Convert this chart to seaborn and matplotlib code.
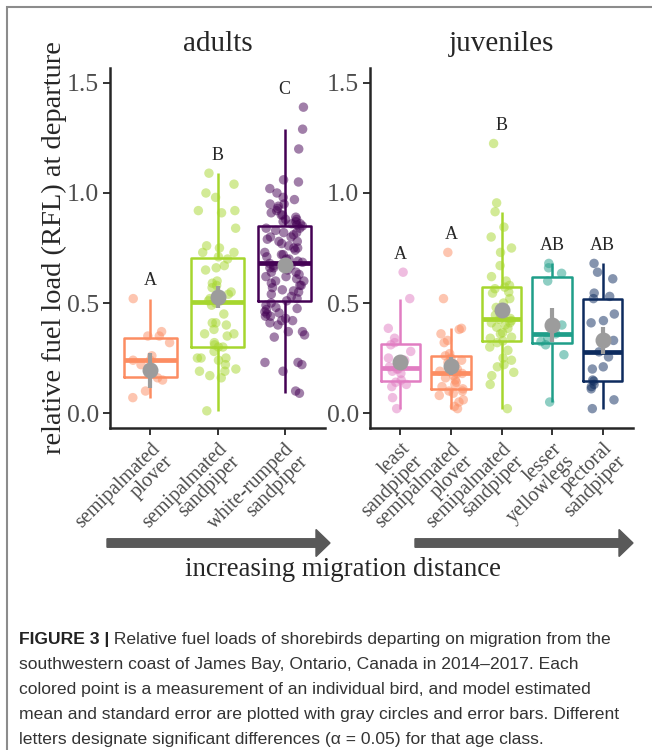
import numpy as np
import pandas as pd
import matplotlib
matplotlib.use('Agg')
import matplotlib.pyplot as plt
from matplotlib.patches import FancyArrow, Rectangle
import seaborn as sns

# --- Data ---

adult_species = ['semipalmated\nplover', 'semipalmated\nsandpiper', 'white-rumped\nsandpiper']
juv_species = ['least\nsandpiper', 'semipalmated\nplover', 'semipalmated\nsandpiper',
               'lesser\nyellowlegs', 'pectoral\nsandpiper']

# individual birds, relative fuel load
adult_sepl = [0.52, 0.37, 0.35, 0.35, 0.32, 0.26, 0.24, 0.24, 0.22, 0.18, 0.16, 0.15, 0.10, 0.07]
adult_sesa = [1.09, 1.04, 1.00, 0.98, 0.92, 0.92, 0.91, 0.84, 0.76, 0.75, 0.73, 0.73, 0.71,
              0.70, 0.67, 0.66, 0.65, 0.60, 0.59, 0.58, 0.57, 0.55, 0.54, 0.52, 0.51, 0.51,
              0.50, 0.49, 0.45, 0.41, 0.41, 0.40, 0.38, 0.36, 0.36, 0.35, 0.32, 0.31, 0.30,
              0.30, 0.28, 0.25, 0.25, 0.25, 0.24, 0.22, 0.20, 0.19, 0.19, 0.17, 0.16, 0.01]
adult_wrsa = [1.39, 1.29, 1.20, 1.06, 1.05, 1.02, 1.00, 0.98, 0.97, 0.95, 0.95, 0.94, 0.93,
              0.92, 0.91, 0.90, 0.90, 0.89, 0.88, 0.88, 0.87, 0.87, 0.86, 0.86, 0.855,
              0.85, 0.84, 0.84, 0.83, 0.82, 0.82, 0.81, 0.80, 0.80, 0.79, 0.78, 0.78, 0.77,
              0.76, 0.75, 0.75, 0.74, 0.73, 0.72, 0.72, 0.71, 0.70, 0.70, 0.69, 0.685,
              0.68, 0.67, 0.67, 0.66, 0.66, 0.65, 0.64, 0.64, 0.63, 0.62, 0.62, 0.61, 0.60,
              0.60, 0.59, 0.58, 0.58, 0.57, 0.56, 0.555, 0.55, 0.54, 0.53, 0.52, 0.51,
              0.50, 0.49, 0.48, 0.475, 0.47, 0.46, 0.455, 0.45, 0.44, 0.44, 0.43, 0.42,
              0.42, 0.41, 0.40, 0.37, 0.37, 0.355, 0.345, 0.23, 0.23, 0.22, 0.19, 0.10, 0.09]

juv_lesa = [0.64, 0.52, 0.385, 0.34, 0.32, 0.31, 0.28, 0.25, 0.24, 0.21, 0.20, 0.20, 0.19,
            0.18, 0.15, 0.14, 0.13, 0.12, 0.07, 0.02]
juv_sepl = [0.73, 0.52, 0.385, 0.38, 0.36, 0.33, 0.32, 0.27, 0.26, 0.25, 0.24, 0.23, 0.22,
            0.21, 0.20, 0.19, 0.18, 0.18, 0.17, 0.16, 0.15, 0.14, 0.13, 0.12, 0.11, 0.10,
            0.10, 0.09, 0.08, 0.06, 0.05, 0.03, 0.02]
juv_sesa = [1.225, 0.955, 0.915, 0.845, 0.80, 0.75, 0.73, 0.67, 0.62, 0.60, 0.58,
            0.572, 0.565, 0.55, 0.545, 0.52, 0.50, 0.48, 0.475, 0.46, 0.445, 0.43,
            0.426, 0.42, 0.41, 0.41, 0.40, 0.39, 0.385, 0.365, 0.36, 0.345, 0.34,
            0.328, 0.32, 0.30, 0.285, 0.25, 0.24, 0.22, 0.21, 0.185, 0.17, 0.13, 0.02]
juv_leye = [0.68, 0.66, 0.635, 0.60, 0.40, 0.36, 0.34, 0.325, 0.31, 0.265, 0.05]
juv_pesa = [0.68, 0.64, 0.61, 0.545, 0.53, 0.52, 0.45, 0.42, 0.41, 0.33, 0.278, 0.255,
            0.21, 0.20, 0.15, 0.145, 0.13, 0.12, 0.11, 0.06, 0.02]

# model estimated mean and standard error (gray circles)
adult_mean = [0.195, 0.527, 0.672]
adult_se = [0.08, 0.05, 0.02]
juv_mean = [0.232, 0.213, 0.468, 0.40, 0.33]
juv_se = [0.03, 0.04, 0.03, 0.078, 0.06]

# significance letters
adult_letters = ['A', 'B', 'C']
juv_letters = ['A', 'A', 'B', 'AB', 'AB']

adult_colors = ['#FC8D62', '#A6D62E', '#440154']
juv_colors = ['#E17DC2', '#FC8D62', '#A6D62E', '#1F9E89', '#0D2B5E']

caption_lines = [
    'Relative fuel loads of shorebirds departing on migration from the',
    'southwestern coast of James Bay, Ontario, Canada in 2014\u20132017. Each',
    'colored point is a measurement of an individual bird, and model estimated',
    'mean and standard error are plotted with gray circles and error bars. Different',
    'letters designate significant differences (\u03b1 = 0.05) for that age class.',
]

# --- Build long tables ---
adults = pd.DataFrame({
    'species': np.repeat(adult_species, [len(adult_sepl), len(adult_sesa), len(adult_wrsa)]),
    'rfl': adult_sepl + adult_sesa + adult_wrsa,
})
juvs = pd.DataFrame({
    'species': np.repeat(juv_species, [len(juv_lesa), len(juv_sepl), len(juv_sesa),
                                       len(juv_leye), len(juv_pesa)]),
    'rfl': juv_lesa + juv_sepl + juv_sesa + juv_leye + juv_pesa,
})
# keep the two "semipalmated" juvenile categories apart from the adult ones
adults['key'] = ['a' + str(adult_species.index(s)) for s in adults['species']]
juvs['key'] = ['j' + str(juv_species.index(s)) for s in juvs['species']]

sns.set_style('ticks')
plt.rcParams['font.family'] = ['Liberation Serif', 'DejaVu Serif']

fig = plt.figure(figsize=(6.52, 7.5), dpi=100)
ax1 = fig.add_axes([110 / 652, 1 - 428 / 750, 215 / 652, 360 / 750])
ax2 = fig.add_axes([370 / 652, 1 - 428 / 750, 263 / 652, 360 / 750])

np.random.seed(7)
panels = [
    (ax1, adults, adult_species, adult_colors, adult_mean, adult_se, adult_letters, 'adults', 0.3),
    (ax2, juvs, juv_species, juv_colors, juv_mean, juv_se, juv_letters, 'juveniles', 0.25),
]
for ax, df, names, cols, means, ses, letters, title, jit in panels:
    order = sorted(df['key'].unique())
    pal = dict(zip(order, cols))
    sns.boxplot(data=df, x='key', y='rfl', hue='key', order=order, palette=pal,
                fill=False, width=0.78, showfliers=False, showcaps=False,
                linewidth=1.8, medianprops={'linewidth': 3.4}, legend=False, ax=ax)
    sns.stripplot(data=df, x='key', y='rfl', hue='key', order=order, palette=pal,
                  jitter=jit, size=6.8, alpha=0.5, linewidth=0, legend=False, ax=ax)
    pos = np.arange(len(names))
    ax.errorbar(pos, means, yerr=ses, fmt='o', ms=10.5, color='#9C9C9C',
                elinewidth=3, capsize=0, zorder=10)
    for i, k in enumerate(order):
        top = df.loc[df['key'] == k, 'rfl'].max()
        ax.text(i, top + 0.06, letters[i], ha='center', va='baseline', fontsize=13)

    ax.set_xlim(-0.6, len(names) - 0.4)
    ax.set_ylim(-0.068, 1.568)
    ax.set_yticks([0, 0.5, 1.0, 1.5])
    ax.set_yticklabels(['0.0', '0.5', '1.0', '1.5'], fontsize=18.5, color='#4D4D4D')
    ax.set_xticks(pos)
    ax.set_xticklabels(names, rotation=45, ha='right', va='top', rotation_mode='anchor',
                       fontsize=14.5, color='#4D4D4D', linespacing=0.95, multialignment='right')
    ax.tick_params(axis='both', length=5, width=1.4, color='#333333', pad=3)
    ax.set_xlabel('')
    ax.set_ylabel('')
    ax.set_title(title, fontsize=21, pad=12)
    for sp in ['left', 'bottom']:
        ax.spines[sp].set_linewidth(1.8)
    sns.despine(ax=ax)

ax1.set_ylabel('relative fuel load (RFL) at departure', fontsize=20.5, labelpad=0)

# migration distance arrows
for x0, x1 in [(1.07, 3.30), (4.15, 6.33)]:
    fig.add_artist(FancyArrow(x0, 2.07, x1 - x0, 0, width=0.085, head_width=0.27,
                              head_length=0.14, length_includes_head=True,
                              color='#595959', transform=fig.dpi_scale_trans))
fig.text(343 / 652, 1 - 569 / 750, 'increasing migration distance', ha='center',
         va='center', fontsize=19.4)

# caption
cap_y = [644, 669, 694, 719, 744]
cap_size = 12.6
bold = fig.text(19 / 652, 1 - cap_y[0] / 750, 'FIGURE 3 |', family='Liberation Sans',
                fontweight='bold', fontsize=cap_size, va='baseline', color='#222222')
fig.canvas.draw()
for i, line in enumerate(caption_lines):
    if i == 0:
        ax1.annotate(' ' + line, xy=(1, 0), xycoords=bold, va='bottom', ha='left',
                     family='Liberation Sans', fontsize=cap_size, color='#333333',
                     annotation_clip=False)
    else:
        fig.text(19 / 652, 1 - cap_y[i] / 750, line, family='Liberation Sans',
                 fontsize=cap_size, va='baseline', color='#333333')

# outer frame (left and top edges visible)
fig.add_artist(Rectangle((0.07, -1.0), 10, 8.43, fill=False, edgecolor='#8C8C8C',
                         linewidth=1.5, transform=fig.dpi_scale_trans))

fig.savefig('out.png', dpi=100)
